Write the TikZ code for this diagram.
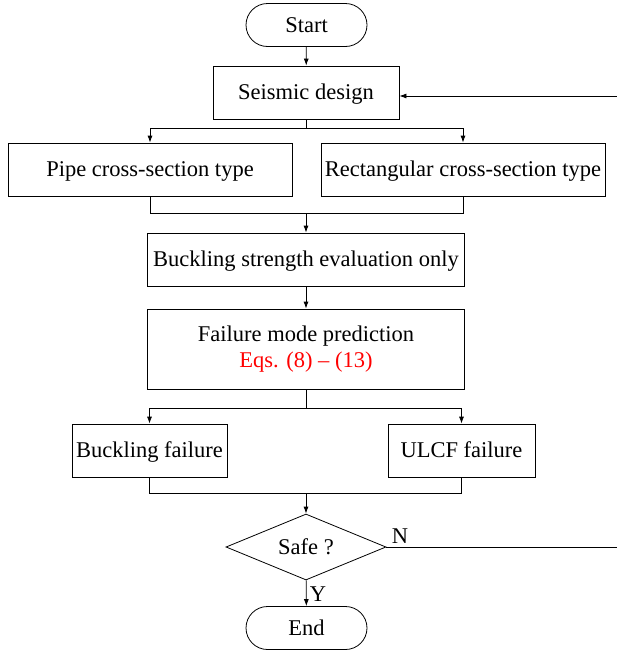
\documentclass[tikz,border=0pt]{standalone}
\usepackage{fontspec}
\setmainfont{Liberation Serif}
\usetikzlibrary{shapes.geometric,arrows.meta}
\begin{document}
\begin{tikzpicture}[x=1pt,y=-1pt,
  every node/.style={font=\fontsize{22.5}{26}\selectfont},
  fixtext/.style={text height=17pt, text depth=3pt},
  box/.style={draw, line width=0.8pt, inner sep=0pt, minimum height=53pt, align=center},
  term/.style={draw, line width=0.8pt, inner sep=0pt, minimum width=121pt, minimum height=43pt, rounded corners=21.5pt, fixtext},
  dec/.style={draw, line width=0.8pt, diamond, aspect=2.4, inner sep=0pt, minimum width=160pt, minimum height=66pt, fixtext},
  conn/.style={line width=0.8pt},
  arr/.style={conn, -{Latex[length=7pt,width=5pt]}},
  lbl/.style={inner sep=0pt}
]
\useasboundingbox (0,0) rectangle (617,651);

\node[term] (start) at (306.5,25) {Start};
\node[box, fixtext, minimum width=186pt] (seis) at (306,92.5) {Seismic design};
\node[box, fixtext, minimum width=284pt] (pipe) at (150,169.5) {Pipe cross-section type};
\node[box, fixtext, minimum width=284pt] (rect) at (463,169.5) {Rectangular cross-section type};
\node[box, fixtext, minimum width=317pt] (buck) at (306,259.5) {Buckling strength evaluation only};
\node[box, minimum width=317pt, minimum height=80pt] (fail) at (306,349)
  {Failure mode prediction\\\textcolor{red}{Eqs. (8) – (13)}};
\node[box, fixtext, minimum width=155pt] (bf) at (149.5,450.5) {Buckling failure};
\node[box, fixtext, minimum width=147pt] (uf) at (461.5,450.5) {ULCF failure};
\node[dec] (safe) at (306,547) {Safe ?};
\node[term] (end) at (306.5,628) {End};
\node[lbl] (nlab) at (400,536) {N};
\node[lbl] (ylab) at (318,594) {Y};

\coordinate (b1) at (306,128);
\coordinate (m1) at (306,213);
\coordinate (b2) at (306,408);
\coordinate (m2) at (306,493);
\coordinate (loopa) at (619,547);
\coordinate (loopb) at (619,96);

\draw[arr] (start) -- (seis);
\draw[conn] (seis) -- (b1);
\draw[arr] (b1) -| (pipe);
\draw[arr] (b1) -| (rect);
\draw[conn] (pipe) |- (m1);
\draw[conn] (rect) |- (m1);
\draw[arr] (m1) -- (buck);
\draw[arr] (buck) -- (fail);
\draw[conn] (fail) -- (b2);
\draw[arr] (b2) -| (bf);
\draw[arr] (b2) -| (uf);
\draw[conn] (bf) |- (m2);
\draw[conn] (uf) |- (m2);
\draw[arr] (m2) -- (safe);
\draw[arr] (safe) -- (end);
\draw[arr] (safe.east) -- (loopa) -- (loopb) -- ([yshift=-3.5pt]seis.east);
\end{tikzpicture}
\end{document}
